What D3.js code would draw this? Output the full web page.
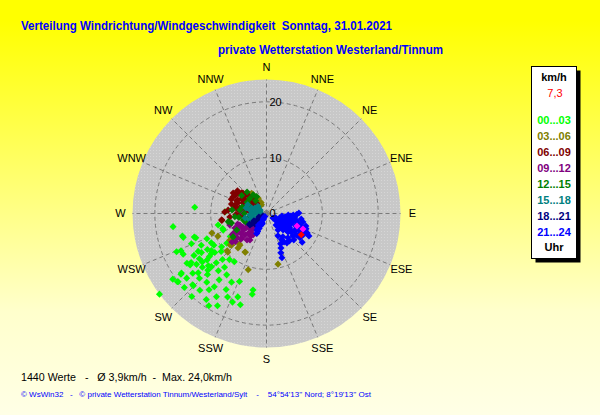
<!DOCTYPE html>
<html>
<head>
<meta charset="utf-8">
<script src="https://cdn.jsdelivr.net/npm/d3@7"></script>
<style>
  body { margin: 0; padding: 0; overflow: hidden; }
  text { font-family: "Liberation Sans", Arial, sans-serif; white-space: pre; }
</style>
</head>
<body>
<div id="view-container"></div>
<script>
// ************** data  ***************************************
var dirLabels = ["N", "NNE", "NE", "ENE", "E", "ESE", "SE", "SSE",
                 "S", "SSW", "SW", "WSW", "W", "WNW", "NW", "NNW"];
var speedTicks = [0, 10, 20];
var speedRings = [10, 20];
var speedMax = 24;

var legendLabels = ["00...03", "03...06", "06...09", "09...12", "12...15", "15...18", "18...21", "21...24"];
var slotColors = ["#00ff00", "#808000", "#800000", "#800080", "#008000", "#008080", "#000080", "#0000ff"];

var currentSpeed = "7,3";
var titleText = "Verteilung Windrichtung/Windgeschwindigkeit  Sonntag, 31.01.2021";
var subTitleText = "private Wetterstation Westerland/Tinnum";
var statsText = "1440 Werte   -   \u00d8 3,9km/h  -  Max. 24,0km/h";
var footerText = "\u00a9 WsWin32   -   \u00a9 private Wetterstation Tinnum/Westerland/Sylt    -    54\u00b054'13'' Nord; 8\u00b019'13'' Ost";

// [direction in degrees, speed in km/h]
var slot00_03 = [
  [262,16.9],[255,15.6],[252,13.6],[247,11.6],[242,11.2],[239,13.6],[247,17.5],[246.5,16.7],
  [244,16.6],[238.6,12.4],[233,12.8],[233,11.6],[230,10.6],[237,16.1],[234,15.5],[233,14.4],
  [226,13.7],[225.6,12.6],[223.7,11.4],[218.8,10.6],[213.7,10.4],[235,18.6],[231,18.4],[232.6,20.1],
  [226,18.4],[226,16.7],[221,16.3],[215.5,16.1],[215.5,14.6],[213,13.1],[207,13.8],[201.7,13.1],
  [221,18.2],[217,17.1],[211,17.4],[208,15.4],[201,17.0],[199,15.8],[208,18.7],[190,13.9],
  [190,14.7],[233,24.0],[275,12.9],[254,15.5],[251,13.4],[236,16.5],[234.6,18.8],[232.3,20.0],
  [225.4,18.4],[272.5,7.4],[256.6,8.9],[249,8.3],[255,6.8],[251,8.3],[237.6,7.7],[233.2,8.9],
  [233.5,10.0],[230,15.0],[228,14.0],[232,13.5],[236,14.5],[240,15.0],[238,16.8],[229,16.2],
  [224,15.2],[231,17.0],[226,14.6],[234,12.2],[239,11.0],[244,13.0],[241,14.0],[236,11.9],
  [220,13.4],[235,20.5],[222,20.0],[212,19.5],[228,19.8],[248,14.5],[218,12.2],[205,16.5],
  [196,17.0],[215,18.8]
];
var slot03_06 = [
  [250.3,10.4],[245,9.6],[229.2,8.6],[219.6,8.0],[209.2,7.9],[198,10.6],[225,9.8],[220,7.4],
  [167.2,9.3],[226.5,9.7],[227.8,8.4],[221.7,7.3],[208.6,7.9],[234,8.1],[230,7.4],[324.5,4.1],
  [323.8,4.5],[331.7,3.1],[330,1.8],[301.7,3.5],[327,2.6],[334,2.2]
];
var slot06_09 = [
  [301.5,7.0],[311,5.6],[296,6.7],[295,5.7],[282,5.8],[262,8.1],[264.5,6.6],[294,4.6],
  [309,3.8],[274,3.9],[320.7,3.8],[315,4.7],[281.7,4.9],[306.5,2.6],[275,6.9],[310,5.8],
  [293,5.8],[285,5.8],[277,5.1],[300,4.8],[261,8.1],[289,3.8],[270,4.7],[262,4.2],
  [276,3.0],[297,2.7],[316,2.5],[300,6.5],[305,6.2],[310,5.0],[315,4.2],[300,5.2],
  [295,4.2],[305,3.5],[290,5.5],[285,6.5],[290,4.0],[298,3.0],[310,3.0],[315,3.5],
  [303,4.6],[292,6.8],[308,6.6],[282,4.0],[278,6.0],[268,5.5],[272,7.5],[300,2.2],[288,3.0]
];
var slot09_12 = [
  [216.3,5.9],[212,5.6],[231.5,6.8],[230.4,8.0],[240,4.9],[246.5,5.2],[221.3,3.9],[245.3,6.2],
  [225,5.4],[238,3.9],[237,6.1],[225,6.2],[218.8,4.7],[218.4,3.3],[239,6.9],[234.6,5.1],
  [222.6,4.8],[274,4.5],[252.5,6.9],[228,4.0],[235,4.5],[242,5.8],[232,5.8],[220,4.5],
  [215,5.0],[225,6.5],[238,7.2],[245,4.0],[250,5.5],[228,7.5],[234,3.5],[212,4.5],[218,3.2]
];
var slot12_15 = [
  [324.5,4.1],[329.7,3.5],[258,7.0],[264,5.7],[277.5,4.8],[289,3.8],[254,4.3],[259,3.0],
  [241,6.1],[235,7.3],[320,3.0],[312,4.0],[300,4.0],[285,4.5],[270,4.0],[262,5.0],
  [255,6.5],[248,4.0],[276,6.2],[306,5.5],[318,5.2],[295,3.5]
];
var slot15_18 = [
  [282,3.0],[295.6,2.3],[258,3.9],[280,1.5],[268,2.6],[294.7,3.7],[298,1.3],[248.5,3.2],
  [270,1.8],[257.8,2.7],[285,1.2],[275,2.2],[290,2.8],[265,3.0],[300,1.8],[255,2.5],
  [285,3.8],[310,2.0],[270,1.0]
];
var slot18_21 = [
  [235,0.8],[234,1.4],[236,2.0],[233,2.6],[235,3.2],[238,3.6],[230,1.8],[240,2.6],
  [228,2.8],[245,1.5],[225,1.2],[233.5,2.6],[235,3.6]
];
var slot21_24 = [
  [124.7,1.4],[119.5,2.4],[125,3.0],[109.4,3.5],[121.9,3.9],[100.8,4.3],[108.4,4.8],[97,5.1],
  [89,5.8],[103.8,5.6],[109,6.3],[111.7,7.0],[115.7,7.7],[115.7,8.1],[128.8,8.2],[130.7,5.1],
  [145,5.1],[145.2,6.4],[157.2,6.7],[160.8,8.4],[131.3,3.9],[121.7,4.9],[120,5.9],[145.1,3.6],
  [140.4,2.7],[93.2,4.8],[94,3.9],[99.2,2.8],[123.5,7.0],[130.3,6.2],[107.6,7.4],[108.4,2.5],
  [130.2,4.6],[127,5.5],[113,5.7],[116.2,7.1],[138.7,5.8],[148.4,6.0],[152.9,4.5],[160,7.5],
  [103,6.7],[99,6.3],[117.9,8.6],[114,3.0],[104,4.0],[118,4.2],[126,6.6],[135,4.2],
  [96,4.4],[102,5.0],[106,5.6],[112,6.2],[118,6.6],[122,6.0],[125,5.2],[128,4.6],
  [133,4.0],[138,3.4],[112,4.8],[116,4.0],[122,3.2],[110,4.0],[100,3.4],[92,5.4],
  [111,7.6],[120,7.6],[126,7.4],[134,6.8],[140,6.4],[150,5.4],[155,6.0],[128,2.2],[115,1.8],
  [208,0.6],[208,1.2],[207,1.8],[206,2.4],[206,3.0],[206,3.6],[206,4.0],[212,1.0],
  [212,2.0],[211,3.0],[202,2.0],[215,2.5],[210,3.4]
];
var slots = [slot00_03, slot03_06, slot06_09, slot09_12, slot12_15, slot15_18, slot18_21, slot21_24];

var lastValues = [[112.3,5.9],[113,7.1]];
var currentValue = [[121.5,7.3]];

// ************** svg *****************
var widthTotal = 600,
    heightTotal = 415;
var cx = 266.5,
    cy = 213.5,
    radius = 134;

var svg = d3.select("#view-container").append("svg")
  .attr("width", widthTotal)
  .attr("height", heightTotal);

var defs = svg.append("defs");

//background gradient yellow -> pale yellow
var grad = defs.append("linearGradient")
  .attr("id", "bgGrad")
  .attr("x1", 0).attr("y1", 0)
  .attr("x2", 0).attr("y2", 1);
grad.append("stop").attr("offset", "0.05").attr("stop-color", "#ffff00");
grad.append("stop").attr("offset", "0.75").attr("stop-color", "#ffffcc");
grad.append("stop").attr("offset", "1").attr("stop-color", "#ffffe6");

//dotted grey texture of the rose
var pat = defs.append("pattern")
  .attr("id", "dots")
  .attr("width", 3).attr("height", 3)
  .attr("patternUnits", "userSpaceOnUse");
pat.append("rect").attr("width", 3).attr("height", 3).attr("fill", "#c8c8c8");
pat.append("rect").attr("width", 1).attr("height", 1).attr("fill", "#d6d6d6");

svg.append("rect")
  .attr("width", widthTotal)
  .attr("height", heightTotal)
  .attr("fill", "url(#bgGrad)");

//titles
svg.append("text")
  .attr("x", 21).attr("y", 29.5)
  .attr("font-size", "12px")
  .attr("font-weight", "bold")
  .attr("fill", "#0000ff")
  .attr("textLength", 371)
  .attr("lengthAdjust", "spacingAndGlyphs")
  .text(titleText);

svg.append("text")
  .attr("x", 218).attr("y", 54)
  .attr("font-size", "12px")
  .attr("font-weight", "bold")
  .attr("fill", "#0000ff")
  .attr("textLength", 225)
  .attr("lengthAdjust", "spacingAndGlyphs")
  .text(subTitleText);

// ************** wind rose *****************
var r = d3.scaleLinear().domain([0, speedMax]).range([0, radius]);
var angle = d3.scaleLinear().domain([0, 360]).range([0, 2 * Math.PI]);

function px(d) { return cx + r(d[1]) * Math.sin(angle(d[0])); }
function py(d) { return cy - r(d[1]) * Math.cos(angle(d[0])); }

var gRose = svg.append("g").attr("id", "rose");

gRose.append("circle")
  .attr("cx", cx).attr("cy", cy)
  .attr("r", radius)
  .attr("fill", "url(#dots)");

//rings
gRose.selectAll("circle.ring")
  .data(speedRings)
  .enter()
  .append("circle")
  .attr("class", "ring")
  .attr("cx", cx).attr("cy", cy)
  .attr("r", function(d) { return r(d); })
  .attr("fill", "none")
  .attr("stroke", "#7a7a7a")
  .attr("stroke-dasharray", "4,3");

//spokes
gRose.selectAll("line.spoke")
  .data(dirLabels)
  .enter()
  .append("line")
  .attr("class", "spoke")
  .attr("x1", cx).attr("y1", cy)
  .attr("x2", function(d, i) { return px([i * 22.5, speedMax]); })
  .attr("y2", function(d, i) { return py([i * 22.5, speedMax]); })
  .attr("stroke", "#7a7a7a")
  .attr("stroke-dasharray", "4,3");

//direction labels
gRose.selectAll("text.dir")
  .data(dirLabels)
  .enter()
  .append("text")
  .attr("class", "dir")
  .attr("x", function(d, i) { return cx + (radius + 12) * Math.sin(angle(i * 22.5)); })
  .attr("y", function(d, i) { return cy - (radius + 12) * Math.cos(angle(i * 22.5)); })
  .attr("text-anchor", "middle")
  .attr("dy", "0.36em")
  .attr("font-size", "11px")
  .attr("fill", "#000")
  .text(function(d) { return d; });

//points, drawn slot after slot
var diamond = d3.symbol().type(d3.symbolSquare).size(25);

slots.forEach(function(slot, i) {
  gRose.append("g")
    .attr("class", "slot" + i)
    .selectAll("path")
    .data(slot)
    .enter()
    .append("path")
    .attr("d", diamond)
    .attr("transform", function(d) { return "translate(" + px(d) + "," + py(d) + ") rotate(45)"; })
    .attr("fill", slotColors[i]);
});

gRose.selectAll("path.last")
  .data(lastValues)
  .enter()
  .append("path")
  .attr("class", "last")
  .attr("d", diamond)
  .attr("transform", function(d) { return "translate(" + px(d) + "," + py(d) + ") rotate(45)"; })
  .attr("fill", "#ff00ff");

gRose.selectAll("path.current")
  .data(currentValue)
  .enter()
  .append("path")
  .attr("class", "current")
  .attr("d", diamond)
  .attr("transform", function(d) { return "translate(" + px(d) + "," + py(d) + ") rotate(45)"; })
  .attr("fill", "#ff0000");

//speed labels on the north axis
gRose.selectAll("text.speed")
  .data(speedTicks)
  .enter()
  .append("text")
  .attr("class", "speed")
  .attr("x", cx + 3)
  .attr("y", function(d) { return cy - r(d); })
  .attr("dy", "0.36em")
  .attr("font-size", "11px")
  .attr("fill", "#000")
  .text(function(d) { return d; });

// ************** legend *****************
var legendX = 531.5,
    legendY = 66.5,
    legendW = 45,
    legendH = 192,
    lineH = 16.1;

svg.append("rect")
  .attr("x", legendX + 4).attr("y", legendY + 4)
  .attr("width", legendW).attr("height", legendH)
  .attr("fill", "#000");

svg.append("rect")
  .attr("x", legendX).attr("y", legendY)
  .attr("width", legendW).attr("height", legendH)
  .attr("fill", "#fff")
  .attr("stroke", "#000")
  .attr("stroke-width", 1);

var legendCx = legendX + legendW / 2;

svg.append("text")
  .attr("x", legendCx).attr("y", 81)
  .attr("text-anchor", "middle")
  .attr("font-size", "11px")
  .attr("font-weight", "bold")
  .text("km/h");

svg.append("text")
  .attr("x", legendCx + 1).attr("y", 96.5)
  .attr("text-anchor", "middle")
  .attr("font-size", "11px")
  .attr("fill", "#ff0000")
  .text(currentSpeed);

svg.selectAll("text.legend")
  .data(legendLabels)
  .enter()
  .append("text")
  .attr("class", "legend")
  .attr("x", legendCx)
  .attr("y", function(d, i) { return 123.5 + lineH * i; })
  .attr("text-anchor", "middle")
  .attr("font-size", "11px")
  .attr("font-weight", "bold")
  .attr("fill", function(d, i) { return slotColors[i]; })
  .text(function(d) { return d; });

svg.append("text")
  .attr("x", legendCx).attr("y", 251)
  .attr("text-anchor", "middle")
  .attr("font-size", "11px")
  .attr("font-weight", "bold")
  .text("Uhr");

// ************** footer *****************
svg.append("text")
  .attr("x", 21).attr("y", 381)
  .attr("font-size", "11px")
  .attr("fill", "#000")
  .attr("textLength", 211)
  .attr("lengthAdjust", "spacingAndGlyphs")
  .text(statsText);

svg.append("text")
  .attr("x", 21).attr("y", 396.5)
  .attr("font-size", "8px")
  .attr("fill", "#0000ff")
  .attr("textLength", 350)
  .attr("lengthAdjust", "spacingAndGlyphs")
  .text(footerText);
</script>
</body>
</html>
